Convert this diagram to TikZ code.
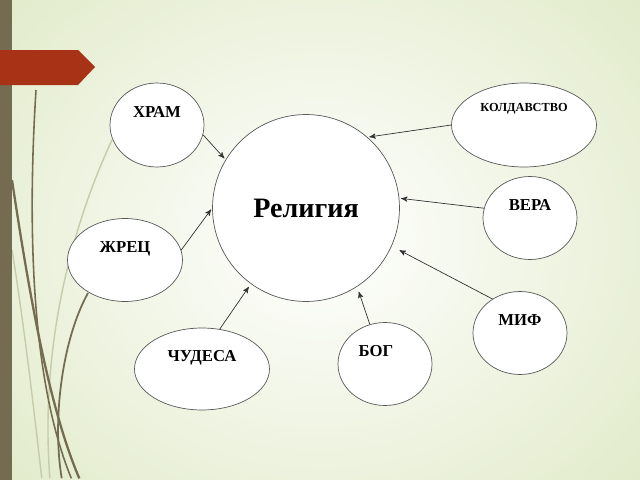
\documentclass[tikz,border=0pt]{standalone}
\usepackage{fontspec}
\setmainfont{Liberation Serif}
\usepackage{xcolor}
\usetikzlibrary{arrows, shapes}
\definecolor{bgedge}{RGB}{221,232,194}
\definecolor{stem}{RGB}{116,107,80}
\definecolor{tagred}{RGB}{168,50,22}
\definecolor{wisp}{RGB}{196,204,170}

\begin{document}
\begin{tikzpicture}[x=0.02cm, y=-0.02cm, >=stealth', shorten >=1pt, semithick]
	\tikzstyle{spot}=[ellipse, draw=black!65, fill=white, thin, inner sep=0pt]
	\tikzstyle{term}=[spot, font=\bfseries\fontsize{9.5}{11}\selectfont, text height=0.22cm, text depth=0.52cm]
	\tikzstyle{link}=[->, draw=black!80, thin]
	\useasboundingbox (0,0) rectangle (640,480);
	% background
	\begin{scope}
		\clip (0,0) rectangle (640,480);
		\shade[inner color=white, outer color=bgedge] (-180,-180) rectangle (820,660);
		\draw[wisp, line width=0.8pt] (112,140) .. controls (70,230) and (40,350) .. (50,480);
		\draw[wisp, line width=0.8pt] (12,250) .. controls (25,330) and (35,420) .. (42,480);
		\draw[stem, line width=0.9pt] (36,90) .. controls (26,250) and (35,390) .. (72,480);
		\draw[stem, line width=1.3pt] (12,180) .. controls (30,300) and (50,410) .. (80,480);
		\draw[stem, line width=1pt] (88,293) .. controls (62,340) and (52,420) .. (62,480);
		\fill[stem] (0,0) rectangle (12,480);
		\fill[tagred] (0,50) -- (78,50) -- (95,67) -- (78,85) -- (0,85) -- cycle;
	\end{scope}
	% centre
	\node[spot, circle, minimum size=3.74cm, font=\bfseries\fontsize{16}{19}\selectfont] (religia) at (306,208) {Религия};
	% around
	\node[term, minimum width=1.88cm, minimum height=1.68cm] (hram) at (157,125) {ХРАМ};
	\node[term, minimum width=2.90cm, minimum height=1.68cm, font=\bfseries\fontsize{7}{8}\selectfont, text height=0.16cm, text depth=0.72cm] (kold) at (524,125) {КОЛДАВСТВО};
	\node[term, minimum width=1.88cm, minimum height=1.66cm] (vera) at (530,218) {ВЕРА};
	\node[term, minimum width=2.30cm, minimum height=1.66cm] (zhrec) at (125,260) {ЖРЕЦ};
	\node[term, minimum width=1.88cm, minimum height=1.66cm] (mif) at (520,333) {МИФ};
	\node[term, minimum width=2.70cm, minimum height=1.64cm] (chudesa) at (202,369) {ЧУДЕСА};
	\node[term, minimum width=1.88cm, minimum height=1.66cm] (bog) at (385,364) {БОГ\kern0.36cm};
	% arrows
	\draw[link] (hram.-12) -- (religia.149);
	\draw[link] (kold.180) -- (religia.49);
	\draw[link] (vera.168) -- (religia.6);
	\draw[link] (zhrec.10) -- (religia.180);
	\draw[link, shorten >=5pt] (mif.129) -- (religia.-24);
	\draw[link, shorten >=2pt] (chudesa.66) -- (religia.-126);
	\draw[link, shorten >=3pt] (bog.111) -- (religia.-57);
\end{tikzpicture}
\end{document}
